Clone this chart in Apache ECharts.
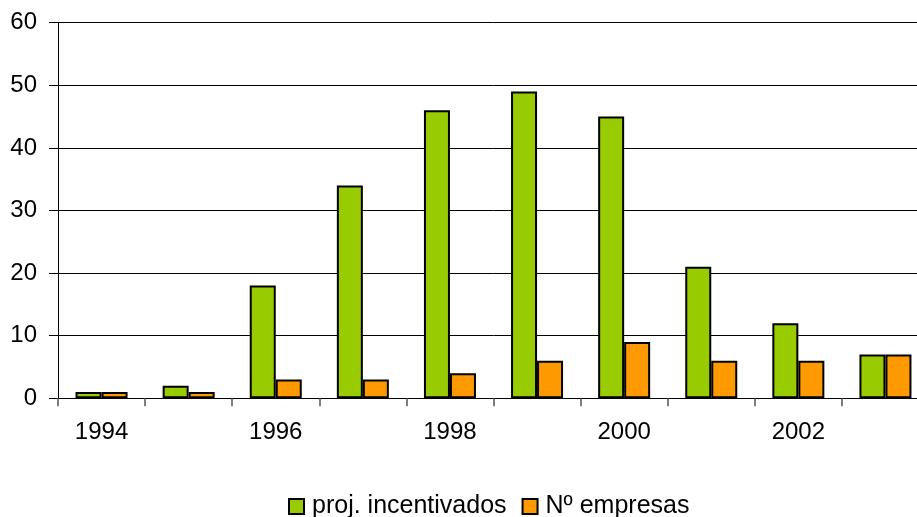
<!DOCTYPE html>
<html>
<head>
<meta charset="utf-8">
<script src="https://cdn.jsdelivr.net/npm/echarts@6/dist/echarts.min.js"></script>
<style>
  html, body { margin: 0; padding: 0; background: #fff; overflow: hidden; width: 917px; height: 517px; }
  /* drawing surface runs slightly past the right edge of the window */
  #chart { width: 929px; height: 517px; }
</style>
</head>
<body>
<div id="chart"></div>
<script>
// Years shown on the category axis
const years = ['1994', '1995', '1996', '1997', '1998', '1999', '2000', '2001', '2002', '2003'];
// Number of supported projects per year
const projIncentivados = [1, 2, 18, 34, 46, 49, 45, 21, 12, 7];
// Number of companies per year
const nEmpresas = [1, 1, 3, 3, 4, 6, 9, 6, 6, 7];

const seriesNames = ['proj. incentivados', 'Nº empresas'];
const font = 'Liberation Sans, Arial, sans-serif';

const chart = echarts.init(document.getElementById('chart'), null, { renderer: 'canvas' });

const barStyle = (color) => ({ color: color, borderColor: '#000', borderWidth: 2 });

chart.setOption({
  animation: false,
  backgroundColor: '#fff',
  grid: { left: 58, right: 0, top: 22.7, bottom: 118.7, containLabel: false },
  legend: {
    top: 494,
    left: 288,
    padding: 0,
    itemWidth: 15,
    itemHeight: 15,
    itemGap: 15,
    icon: 'rect',
    textStyle: { fontFamily: font, fontSize: 25, color: '#000', padding: [0, 0, 0, 3] },
    data: seriesNames.map(n => ({ name: n, itemStyle: { borderColor: '#000', borderWidth: 2 } }))
  },
  xAxis: {
    type: 'category',
    data: years,
    boundaryGap: true,
    axisLine: { show: true, lineStyle: { color: '#000', width: 1 } },
    axisTick: { show: true, length: 8, interval: 0, alignWithLabel: false, lineStyle: { color: '#555', width: 1.5 } },
    axisLabel: { interval: 1, fontFamily: font, fontSize: 24, color: '#000', margin: 22 },
    splitLine: { show: false }
  },
  yAxis: {
    type: 'value',
    min: 0,
    max: 60,
    interval: 10,
    axisLine: { show: true, lineStyle: { color: '#000', width: 1 } },
    axisTick: { show: true, length: 9, lineStyle: { color: '#000', width: 1 } },
    axisLabel: { fontFamily: font, fontSize: 24, color: '#000', margin: 21 },
    splitLine: { show: true, lineStyle: { color: '#000', width: 1 } }
  },
  series: [
    {
      name: seriesNames[0],
      type: 'bar',
      data: projIncentivados,
      barWidth: 26,
      barGap: '0%',
      itemStyle: barStyle('#99CC00')
    },
    {
      name: seriesNames[1],
      type: 'bar',
      data: nEmpresas,
      barWidth: 26,
      barGap: '0%',
      itemStyle: barStyle('#FF9900')
    }
  ]
});
</script>
</body>
</html>
